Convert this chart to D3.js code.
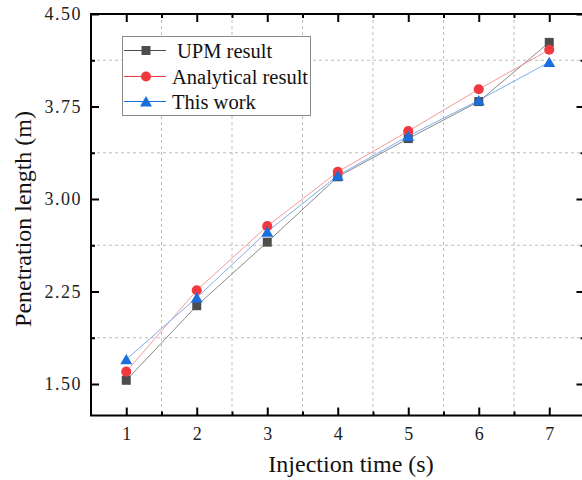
<!DOCTYPE html>
<html><head><meta charset="utf-8">
<script src="https://cdn.jsdelivr.net/npm/d3@7"></script>
<style>body{margin:0;background:#fff}svg{display:block}</style>
</head><body><svg id="c" width="582" height="480"></svg>
<script>
const times = [1, 2, 3, 4, 5, 6, 7];
const upm = [1.53, 2.135, 2.65, 3.18, 3.49, 3.79, 4.27];
const analytical = [1.60, 2.26, 2.78, 3.22, 3.55, 3.89, 4.21];
const thisWork = [1.70, 2.20, 2.735, 3.19, 3.51, 3.80, 4.11];
const yTicks = [1.50, 2.25, 3.00, 3.75, 4.50];
const yTickLabels = ["1.50", "2.25", "3.00", "3.75", "4.50"];
const yMinor = [1.875, 2.625, 3.375, 4.125];
const xMinor = [1.5, 2.5, 3.5, 4.5, 5.5, 6.5];
const seriesNames = ["UPM result", "Analytical result", "This work"];

const svg = d3.select("#c");
const L = 91, R = 584.5, T = 14, B = 415.5;
const x = d3.scaleLinear().domain([0.5, 7.5]).range([L, R]);
const y = d3.scaleLinear().domain([1.5, 3.75]).range([384, 106.5]);

// grid
const g = svg.append("g");
g.selectAll(".vg").data(xMinor).join("line")
  .attr("x1", d => x(d)).attr("x2", d => x(d)).attr("y1", T).attr("y2", B)
  .attr("stroke", "#bdbdbd").attr("stroke-dasharray", "3,3").attr("stroke-width", 1);
g.selectAll(".hg").data(yMinor).join("line")
  .attr("y1", d => y(d)).attr("y2", d => y(d)).attr("x1", L).attr("x2", R)
  .attr("stroke", "#bdbdbd").attr("stroke-dasharray", "3,3").attr("stroke-width", 1);

// axes
const font = "'Liberation Serif', 'Times New Roman', serif";
const axB = d3.axisBottom(x).tickValues(times).tickSize(-8).tickPadding(12).tickSizeOuter(0).tickFormat(d3.format("d"));
const axT = d3.axisTop(x).tickValues(times).tickSize(-8).tickSizeOuter(0).tickFormat("");
const axL = d3.axisLeft(y).tickValues(yTicks).tickSize(-8).tickPadding(9).tickSizeOuter(0).tickFormat((d, i) => yTickLabels[i]);
const axR = d3.axisRight(y).tickValues(yTicks).tickSize(-8).tickSizeOuter(0).tickFormat("");
const axBm = d3.axisBottom(x).tickValues(xMinor).tickSize(-4).tickSizeOuter(0).tickFormat("");
const axTm = d3.axisTop(x).tickValues(xMinor).tickSize(-4).tickSizeOuter(0).tickFormat("");
const axLm = d3.axisLeft(y).tickValues(yMinor).tickSize(-4).tickSizeOuter(0).tickFormat("");
const axRm = d3.axisRight(y).tickValues(yMinor).tickSize(-4).tickSizeOuter(0).tickFormat("");

function styleAx(sel) {
  sel.selectAll("line").attr("stroke", "#000").attr("stroke-width", 2);
  sel.selectAll("path").remove();
  sel.selectAll("text").attr("fill", "#222").style("font-family", font).style("font-size", "18px");
}
[[axB, `translate(0,${B})`], [axBm, `translate(0,${B})`], [axT, `translate(0,${T})`], [axTm, `translate(0,${T})`],
 [axL, `translate(${L},0)`], [axLm, `translate(${L},0)`], [axR, `translate(${R},0)`], [axRm, `translate(${R},0)`]]
 .forEach(([a, tr]) => styleAx(svg.append("g").attr("transform", tr).call(a)));
svg.selectAll("text").filter(function(){return this.textContent && this.textContent.includes(".");}).attr("letter-spacing", "1.5px");

// frame
svg.append("rect").attr("x", L).attr("y", T).attr("width", R - L).attr("height", B - T)
  .attr("fill", "none").attr("stroke", "#000").attr("stroke-width", 2);

// series
const colors = ["#4d4d4d", "#f0393f", "#1a6ede"];
const lineCols = ["#8a8a8a", "#f59a9a", "#7fadec"];
const shapes = [d3.symbolSquare, d3.symbolCircle, d3.symbolTriangle];
const sizes = [81, 80, 62];
const data = [upm, analytical, thisWork];
const line = d3.line().x((d, i) => x(times[i])).y(d => y(d));
data.forEach((s, k) => {
  svg.append("path").attr("d", line(s)).attr("fill", "none").attr("stroke", lineCols[k]).attr("stroke-width", 1);
});
data.forEach((s, k) => {
  svg.append("g").selectAll("path").data(s).join("path")
    .attr("transform", (d, i) => `translate(${x(times[i])},${y(d) + (k === 2 ? 1.5 : 0)})`)
    .attr("d", d3.symbol(shapes[k], sizes[k])).attr("fill", colors[k]);
});

// legend
const lg = svg.append("g");
lg.append("rect").attr("x", 122.5).attr("y", 36.5).attr("width", 188).attr("height", 79)
  .attr("fill", "#fff").attr("stroke", "#8a8a8a").attr("stroke-width", 1);
const legY = [50.5, 76.5, 101.5];
seriesNames.forEach((n, k) => {
  lg.append("line").attr("x1", 124).attr("x2", 166).attr("y1", legY[k]).attr("y2", legY[k])
    .attr("stroke", colors[k]).attr("stroke-width", 1.2);
  lg.append("path").attr("transform", `translate(146,${legY[k] + (k === 2 ? 1.5 : 0)})`)
    .attr("d", d3.symbol(shapes[k], sizes[k])).attr("fill", colors[k]);
  lg.append("text").attr("x", k === 0 ? 177 : 172).attr("y", legY[k] + 7)
    .style("font-family", font).style("font-size", "20.5px").attr("fill", "#111").text(n);
});

// titles
svg.append("text").attr("x", 351).attr("y", 472).attr("text-anchor", "middle")
  .style("font-family", font).style("font-size", "24px").attr("fill", "#111").text("Injection time (s)");
svg.append("text").attr("transform", "translate(31,219) rotate(-90)").attr("text-anchor", "middle")
  .style("font-family", font).style("font-size", "24px").attr("fill", "#111").text("Penetration length (m)");
</script></body></html>
